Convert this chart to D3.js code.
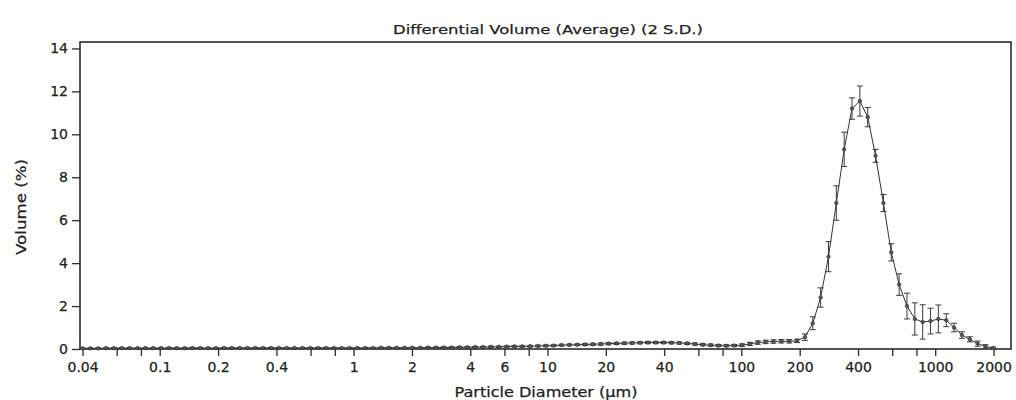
<!DOCTYPE html>
<html>
<head>
<meta charset="utf-8">
<script src="https://cdn.jsdelivr.net/npm/d3@7"></script>
<style>
  html, body { margin: 0; padding: 0; background: #fff; }
  svg { display: block; }
  text { font-family: "DejaVu Sans", "Liberation Sans", sans-serif; fill: #222; stroke: #222; stroke-width: 0.25; }
</style>
</head>
<body>
<svg id="chart" width="1016" height="400"></svg>
<script>
// Channel diameters (µm), log-spaced instrument channels
const diameters = [
  0.04, 0.04391, 0.0482, 0.05291, 0.05808, 0.06376, 0.06999, 0.07683, 0.08434, 0.09258,
  0.1016, 0.1116, 0.1225, 0.1345, 0.1476, 0.162, 0.1778, 0.1952, 0.2143, 0.2353,
  0.2583, 0.2835, 0.3112, 0.3416, 0.375, 0.4117, 0.4519, 0.4961, 0.5446, 0.5978,
  0.6562, 0.7204, 0.7908, 0.868, 0.9529, 1.046, 1.148, 1.26, 1.384, 1.519,
  1.667, 1.83, 2.009, 2.206, 2.421, 2.658, 2.918, 3.203, 3.516, 3.859,
  4.237, 4.651, 5.105, 5.604, 6.152, 6.753, 7.413, 8.138, 8.933, 9.806,
  10.76, 11.82, 12.97, 14.24, 15.63, 17.16, 18.84, 20.68, 22.7, 24.92,
  27.35, 30.03, 32.96, 36.18, 39.72, 43.6, 47.86, 52.54, 57.67, 63.31,
  69.5, 76.29, 83.74, 91.93, 100.9, 110.8, 121.6, 133.5, 146.5, 160.9,
  176.6, 193.8, 212.8, 233.6, 256.4, 281.5, 309.0, 339.2, 372.3, 408.7,
  448.7, 492.5, 540.6, 593.5, 651.5, 715.2, 785.0, 861.8, 946.0, 1038,
  1140, 1251, 1373, 1508, 1655, 1817, 1994
];

// Average differential volume (%) per channel
const volume = [
  0.03, 0.03, 0.03, 0.04, 0.04, 0.04, 0.04, 0.04, 0.04, 0.04,
  0.04, 0.05, 0.04, 0.04, 0.05, 0.05, 0.04, 0.04, 0.05, 0.05,
  0.05, 0.05, 0.05, 0.05, 0.05, 0.05, 0.05, 0.05, 0.05, 0.05,
  0.05, 0.05, 0.05, 0.05, 0.05, 0.05, 0.05, 0.05, 0.06, 0.06,
  0.06, 0.06, 0.06, 0.06, 0.07, 0.07, 0.07, 0.07, 0.08, 0.08,
  0.09, 0.09, 0.10, 0.10, 0.11, 0.12, 0.12, 0.13, 0.14, 0.15,
  0.16, 0.18, 0.19, 0.20, 0.21, 0.22, 0.23, 0.25, 0.26, 0.27,
  0.28, 0.29, 0.30, 0.30, 0.30, 0.29, 0.28, 0.26, 0.23, 0.20,
  0.18, 0.16, 0.15, 0.16, 0.18, 0.24, 0.30, 0.33, 0.35, 0.36,
  0.36, 0.38, 0.55, 1.20, 2.40, 4.30, 6.80, 9.30, 11.20, 11.55,
  10.80, 9.00, 6.80, 4.50, 3.00, 2.00, 1.40, 1.26, 1.30, 1.40,
  1.34, 1.00, 0.65, 0.45, 0.25, 0.12, 0.05
];

// Two standard deviations per channel
const twoSD = [
  0.02, 0.02, 0.02, 0.02, 0.02, 0.02, 0.02, 0.02, 0.02, 0.02,
  0.02, 0.02, 0.02, 0.02, 0.02, 0.02, 0.02, 0.02, 0.02, 0.02,
  0.02, 0.02, 0.02, 0.02, 0.02, 0.02, 0.02, 0.02, 0.02, 0.02,
  0.02, 0.02, 0.02, 0.02, 0.02, 0.02, 0.02, 0.02, 0.02, 0.02,
  0.02, 0.02, 0.02, 0.02, 0.02, 0.02, 0.03, 0.03, 0.03, 0.03,
  0.03, 0.03, 0.03, 0.03, 0.03, 0.03, 0.03, 0.04, 0.04, 0.04,
  0.04, 0.04, 0.04, 0.04, 0.05, 0.05, 0.05, 0.05, 0.05, 0.05,
  0.05, 0.05, 0.05, 0.05, 0.05, 0.05, 0.05, 0.05, 0.05, 0.05,
  0.05, 0.05, 0.05, 0.05, 0.06, 0.07, 0.08, 0.08, 0.08, 0.08,
  0.08, 0.08, 0.15, 0.30, 0.45, 0.70, 0.80, 0.80, 0.50, 0.70,
  0.45, 0.30, 0.40, 0.40, 0.50, 0.60, 0.75, 0.80, 0.60, 0.65,
  0.30, 0.20, 0.15, 0.12, 0.12, 0.08, 0.04
];

// Axis ticks
const xTickValues = [0.04, 0.06, 0.08, 0.1, 0.2, 0.4, 0.6, 0.8, 1, 2, 4, 6, 8, 10, 20, 40, 60, 80, 100, 200, 400, 600, 800, 1000, 2000];
const xTickLabels = ["0.04", "0.1", "0.2", "0.4", "1", "2", "4", "6", "10", "20", "40", "100", "200", "400", "1000", "2000"];
const yTickValues = [0, 2, 4, 6, 8, 10, 12, 14];

const titleText = "Differential Volume (Average) (2 S.D.)";
const xTitle = "Particle Diameter (\u00b5m)";
const yTitle = "Volume (%)";

const svg = d3.select("#chart");
const plotLeft = 80, plotRight = 1011, plotTop = 42, plotBottom = 349;

const x = d3.scaleLog().domain([0.0388, 2460]).range([plotLeft, plotRight]);
const y = d3.scaleLinear().domain([0, 14.3]).range([plotBottom, plotTop]);

const ink = "#2b2b2b";

// Axes
const xAxis = d3.axisBottom(x)
  .tickValues(xTickValues)
  .tickSize(7)
  .tickPadding(6)
  .tickFormat(d => {
    const s = String(d);
    return xTickLabels.includes(s) ? s : "";
  });

const gx = svg.append("g").attr("transform", `translate(0,${plotBottom})`).call(xAxis);
gx.select(".domain").remove();
gx.selectAll(".tick line").attr("stroke", ink).attr("stroke-width", 1.3);
gx.selectAll(".tick text").attr("font-size", 14).attr("fill", "#222");

const yAxis = d3.axisLeft(y).tickValues(yTickValues).tickSize(8).tickPadding(4);
const gy = svg.append("g").attr("transform", `translate(${plotLeft},0)`).call(yAxis);
gy.select(".domain").remove();
gy.selectAll(".tick line").attr("stroke", ink).attr("stroke-width", 1.3);
gy.selectAll(".tick text").attr("font-size", 14).attr("fill", "#222");

// Plot frame
svg.append("rect")
  .attr("x", plotLeft).attr("y", plotTop)
  .attr("width", plotRight - plotLeft).attr("height", plotBottom - plotTop)
  .attr("fill", "none").attr("stroke", ink).attr("stroke-width", 1.6);

const data = diameters.map((d, i) => ({ d, v: volume[i], e: twoSD[i] }));

// Error bars
const eb = svg.append("g").attr("stroke", "#3a3a3a").attr("stroke-width", 1);
data.forEach(p => {
  const cx = x(p.d);
  const y0 = y(Math.max(0, p.v - p.e)), y1 = y(p.v + p.e);
  eb.append("line").attr("x1", cx).attr("x2", cx).attr("y1", y0).attr("y2", y1);
  eb.append("line").attr("x1", cx - 3).attr("x2", cx + 3).attr("y1", y0).attr("y2", y0);
  eb.append("line").attr("x1", cx - 3).attr("x2", cx + 3).attr("y1", y1).attr("y2", y1);
});

// Curve
svg.append("path")
  .datum(data)
  .attr("fill", "none")
  .attr("stroke", "#333")
  .attr("stroke-width", 1)
  .attr("d", d3.line().x(p => x(p.d)).y(p => y(p.v)));

// Markers
svg.append("g").selectAll("circle").data(data).join("circle")
  .attr("cx", p => x(p.d)).attr("cy", p => y(p.v)).attr("r", 1.8)
  .attr("fill", "#555").attr("stroke", "#333").attr("stroke-width", 0.6);

// Titles
svg.append("text")
  .attr("x", 548).attr("y", 34).attr("text-anchor", "middle")
  .attr("font-size", 13).attr("textLength", 310).attr("lengthAdjust", "spacingAndGlyphs")
  .text(titleText);

svg.append("text")
  .attr("x", 546).attr("y", 397).attr("text-anchor", "middle")
  .attr("font-size", 14).attr("textLength", 183).attr("lengthAdjust", "spacingAndGlyphs")
  .text(xTitle);

svg.append("text")
  .attr("transform", "translate(26,207) rotate(-90)")
  .attr("text-anchor", "middle")
  .attr("font-size", 14).attr("textLength", 96).attr("lengthAdjust", "spacingAndGlyphs")
  .text(yTitle);
</script>
</body>
</html>
